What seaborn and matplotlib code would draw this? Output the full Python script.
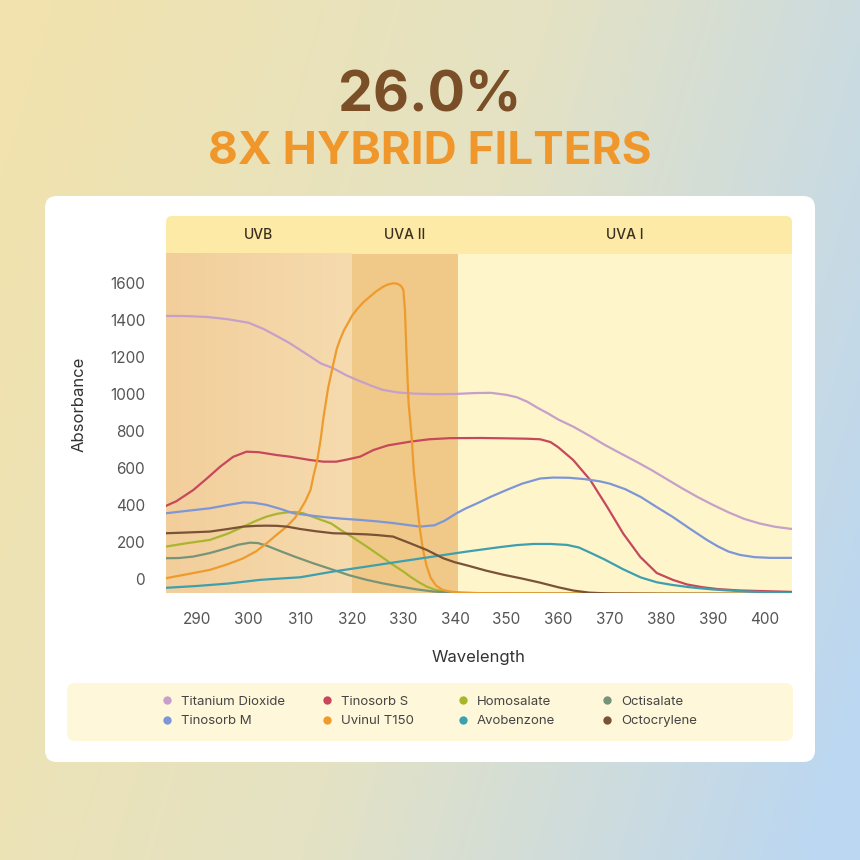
import numpy as np
import pandas as pd
import matplotlib
matplotlib.use("Agg")
import matplotlib.pyplot as plt
from matplotlib.patches import FancyBboxPatch, Rectangle
from matplotlib.lines import Line2D
from matplotlib.colors import LinearSegmentedColormap
import seaborn as sns

# ---------------- data ----------------
ti_x = [284, 288, 292, 296, 300, 303, 306, 308, 311, 314, 316.4, 319, 321, 324, 326, 329, 332, 336, 340, 344, 347,
        350, 352, 354, 356, 358, 360, 363, 366, 369, 372, 375, 378, 381, 384, 387, 390, 393, 396, 399, 402, 405.3]
ti_y = [1422, 1421, 1416, 1404, 1385, 1350, 1305, 1274, 1220, 1165, 1139, 1100, 1076, 1042, 1022, 1008, 1002, 999, 1000, 1005, 1006,
        995, 982, 958, 925, 895, 862, 822, 775, 725, 680, 636, 590, 540, 490, 443, 400, 360, 325, 300, 282, 270]

ts_x = [284, 286, 289.3, 292, 294.5, 297, 299.6, 302, 305.4, 308, 311.9, 314.5, 317, 319, 321.6, 324.2, 327, 331.3, 335, 339,
        345, 350, 354, 356.5, 358.5, 360, 362.9, 366.2, 369.5, 372.6, 375.9, 379.1, 382.2, 385, 388, 391, 395, 400, 405.3]
ts_y = [395, 420, 481, 545, 607, 660, 688, 685, 670, 661, 643, 634, 634, 645, 661, 697, 722, 742, 755, 761,
        762, 760, 758, 755, 740, 712, 643, 535, 389, 245, 119, 32, -5, -30, -45, -55, -62, -66, -70]

tm_x = [284, 288, 292.5, 296, 299, 301, 303.5, 306, 308.7, 312, 315.1, 318, 321.6, 325, 328, 331, 333.2, 336, 338, 340.3,
        342, 344.3, 347, 350, 353, 356.5, 359, 362, 365, 368, 370, 373, 376, 379, 382.2, 385.5, 388.8, 391, 393, 395.2,
        398, 401, 405.3]
tm_y = [355, 368, 382, 400, 414, 412, 400, 380, 355, 343, 333, 326, 319, 311, 302, 291, 283, 290, 315, 355,
        380, 409, 445, 481, 515, 543, 548, 547, 540, 528, 515, 485, 443, 390, 335, 272, 211, 175, 148, 130,
        118, 114, 114]

uv_x = [284, 288, 292.5, 296, 299, 301.5, 303.5, 305.5, 307.4, 309, 310, 311, 312, 312.6, 313.3, 314, 314.5, 315.4,
        316.4, 317.1, 317.7, 318.5, 319.3, 320.1, 320.9, 322.2, 323.5, 324.8, 326.1, 327, 328, 328.7, 329.3, 329.7,
        330, 330.3, 330.6, 331, 331.6, 332, 332.6, 333.2, 333.8, 334.5, 335.3, 336.3, 337.5, 339, 341, 345, 360, 405.3]
uv_y = [4, 25, 49, 80, 112, 150, 193, 240, 283, 330, 373, 420, 481, 560, 640, 760, 870, 1030,
        1160, 1245, 1292, 1345, 1384, 1425, 1454, 1495, 1526, 1556, 1580, 1592, 1598, 1597, 1589, 1578,
        1562, 1454, 1222, 951, 768, 589, 420, 270, 157, 70, 5, -35, -58, -68, -74, -77, -78, -80]

ho_x = [284, 288, 292.5, 296, 299, 301.5, 303.5, 305.5, 307.4, 309, 310.6, 313, 316, 318, 320, 322.9, 325.5, 328, 330,
        331.3, 333, 334.5, 336, 337.7, 340, 343, 350, 405.3]
ho_y = [175, 193, 211, 245, 283, 315, 337, 352, 360, 362, 355, 330, 300, 262, 228, 175, 125, 76, 40,
        13, -18, -41, -57, -68, -75, -78, -80, -82]

oc_x = [284, 286.5, 289.3, 292.5, 295.8, 298, 300.3, 301.8, 303.5, 306, 309, 312.5, 316.4, 319.5, 322.9, 326, 329.3,
        332.5, 335.8, 339, 345, 360, 405.3]
oc_y = [112, 113, 121, 140, 166, 185, 196, 194, 180, 152, 120, 85, 49, 20, -5, -24, -41,
        -56, -68, -74, -77, -79, -80]

av_x = [284, 290, 296, 302.2, 306, 310, 316.4, 322.9, 329.3, 335.8, 342.3, 348.7, 352, 355.2, 358.5, 361.7, 364, 366.2,
        369, 372.6, 376, 379.1, 382, 385.5, 390, 395.2, 400, 405.3]
av_y = [-48, -38, -25, -5, 2, 9, 40, 67, 94, 121, 148, 172, 183, 189, 189, 184, 170, 142,
        105, 52, 8, -18, -32, -45, -57, -66, -72, -76]

ot_x = [284, 288, 292.5, 296, 299, 301.5, 303.5, 305.5, 307.4, 310, 313, 316.4, 319, 322.9, 325, 328, 331.3, 334.5,
        337.7, 340, 342.5, 346, 349.5, 353, 356.5, 360, 363, 366, 370, 380, 405.3]
ot_y = [247, 251, 256, 270, 283, 287, 288, 287, 283, 270, 258, 247, 245, 241, 237, 229, 193, 157,
        112, 90, 72, 45, 22, 2, -20, -45, -63, -74, -79, -81, -82]

names = ["Titanium Dioxide", "Tinosorb S", "Homosalate", "Octisalate",
         "Tinosorb M", "Uvinul T150", "Avobenzone", "Octocrylene"]
colors = ["#C5A0C9", "#C6485C", "#A9B52E", "#789478",
          "#7E96D6", "#EE9B2E", "#3E9FAE", "#7A5236"]
series = {
    "Titanium Dioxide": (ti_x, ti_y),
    "Tinosorb S": (ts_x, ts_y),
    "Homosalate": (ho_x, ho_y),
    "Octisalate": (oc_x, oc_y),
    "Tinosorb M": (tm_x, tm_y),
    "Uvinul T150": (uv_x, uv_y),
    "Avobenzone": (av_x, av_y),
    "Octocrylene": (ot_x, ot_y),
}
y_ticks = [0, 200, 400, 600, 800, 1000, 1200, 1400, 1600]
x_ticks = [290, 300, 310, 320, 330, 340, 350, 360, 370, 380, 390, 400]
bands = [("UVB", 284, 320), ("UVA II", 320, 340.5), ("UVA I", 340.5, 405.3)]

rows = []
for n in names:
    xs, ys = series[n]
    for a, b in zip(xs, ys):
        rows.append({"Wavelength": a, "Absorbance": b, "Filter": n})
df = pd.DataFrame(rows)

# ---------------- figure ----------------
sns.set_theme(style="white")
plt.rcParams['font.family'] = ['Inter', 'DejaVu Sans']

W = 860
fig = plt.figure(figsize=(8.6, 8.6), dpi=100)

# background gradient
bg = fig.add_axes([0, 0, 1, 1], zorder=-10)
gx, gy = np.meshgrid(np.linspace(0, 1, 300), np.linspace(0, 1, 300))
t = np.clip(0.85 * gx + 0.25 * gy - 0.05, 0, 1)
cmap_bg = LinearSegmentedColormap.from_list("bg", ["#F1E2AE", "#E4E2C4", "#BCD7F1"])
bg.imshow(t, cmap=cmap_bg, extent=(0, W, W, 0), aspect='auto', origin='upper')
bg.set_xlim(0, W)
bg.set_ylim(W, 0)
bg.axis('off')

card = FancyBboxPatch((45, 196), 770, 566, boxstyle="round,pad=0,rounding_size=12",
                      facecolor="white", edgecolor="none")
bg.add_patch(card)
leg_bg = FancyBboxPatch((67, 683), 726, 58, boxstyle="round,pad=0,rounding_size=8",
                        facecolor="#FFF7DA", edgecolor="none")
bg.add_patch(leg_bg)
# header band with rounded top corners
bg.add_patch(FancyBboxPatch((166, 216), 626, 38, boxstyle="round,pad=0,rounding_size=6",
                            facecolor="#FCEAA6", edgecolor="none"))
bg.add_patch(Rectangle((166, 236), 626, 18, facecolor="#FCEAA6", edgecolor="none"))

fig.text(0.5, 1 - 97 / W, "26.0%", ha="center", va="center", fontsize=40,
         fontweight="bold", color="#7A4E27")
fig.text(0.5, 1 - 152 / W, "8X HYBRID FILTERS", ha="center", va="center", fontsize=33,
         fontweight="bold", color="#F0972B")

# main axes
L, R, T, B = 166, 792, 216, 593
ax = fig.add_axes([L / W, 1 - B / W, (R - L) / W, (B - T) / W])
ax.set_facecolor("none")
ymin, ymax = -76, 1962
band_lo = 1757
ax.set_xlim(284, 405.3)
ax.set_ylim(ymin, ymax)

# shaded regions
uvb_cmap = LinearSegmentedColormap.from_list("uvb", ["#F2CE9B", "#F6DBAE"])
ax.imshow(np.linspace(0, 1, 100).reshape(1, -1), cmap=uvb_cmap,
          extent=(bands[0][1], bands[0][2], ymin, band_lo), aspect='auto', zorder=0)
ax.add_patch(Rectangle((bands[1][1], ymin), bands[1][2] - bands[1][1], band_lo - ymin,
                       facecolor="#F0C988", edgecolor="none", zorder=0))
ax.add_patch(Rectangle((bands[2][1], ymin), bands[2][2] - bands[2][1], band_lo - ymin,
                       facecolor="#FFF5CB", edgecolor="none", zorder=0))
for lab, a, b in bands:
    ax.text((a + b) / 2, (band_lo + ymax) / 2, lab, ha="center", va="center",
            fontsize=10, fontweight="medium", color="#3B2E1E")

sns.lineplot(data=df, x="Wavelength", y="Absorbance", hue="Filter", hue_order=names,
             palette=colors, estimator=None, linewidth=1.6, legend=False, ax=ax, zorder=3)

ax.set_xlim(284, 405.3)
ax.set_ylim(ymin, ymax)
ax.set_yticks(y_ticks)
ax.set_yticklabels([str(v) for v in y_ticks])
ax.set_xticks(x_ticks)
ax.set_xticklabels([str(v) for v in x_ticks])
ax.tick_params(axis='both', length=0, labelsize=11, labelcolor="#555555")
ax.tick_params(axis='y', pad=15)
ax.tick_params(axis='x', pad=14)
for s in ax.spines.values():
    s.set_visible(False)
ax.set_xlabel("Wavelength", fontsize=12, color="#333333", labelpad=16)
ax.set_ylabel("Absorbance", fontsize=12, color="#333333", labelpad=17)

# legend: four columns, each a small single-column legend
leg_fs = 9.5
half_handle = 0.5 * leg_fs * 100 / 72  # px from handle start to marker centre
col_marker_x = [167, 327, 463, 607]
for c in range(4):
    idx = [c, c + 4]
    handles = [Line2D([0], [0], marker='o', linestyle='none', markersize=6,
                      markerfacecolor=colors[i], markeredgecolor='none') for i in idx]
    lg = fig.legend(handles, [names[i] for i in idx], loc="center left",
                    bbox_to_anchor=((col_marker_x[c] - half_handle) / W, 1 - 711.5 / W),
                    frameon=False, fontsize=leg_fs, labelcolor="#444444", handlelength=1.0,
                    handletextpad=0.55, labelspacing=0.55, borderpad=0, borderaxespad=0)

fig.savefig("out.png", dpi=100)
